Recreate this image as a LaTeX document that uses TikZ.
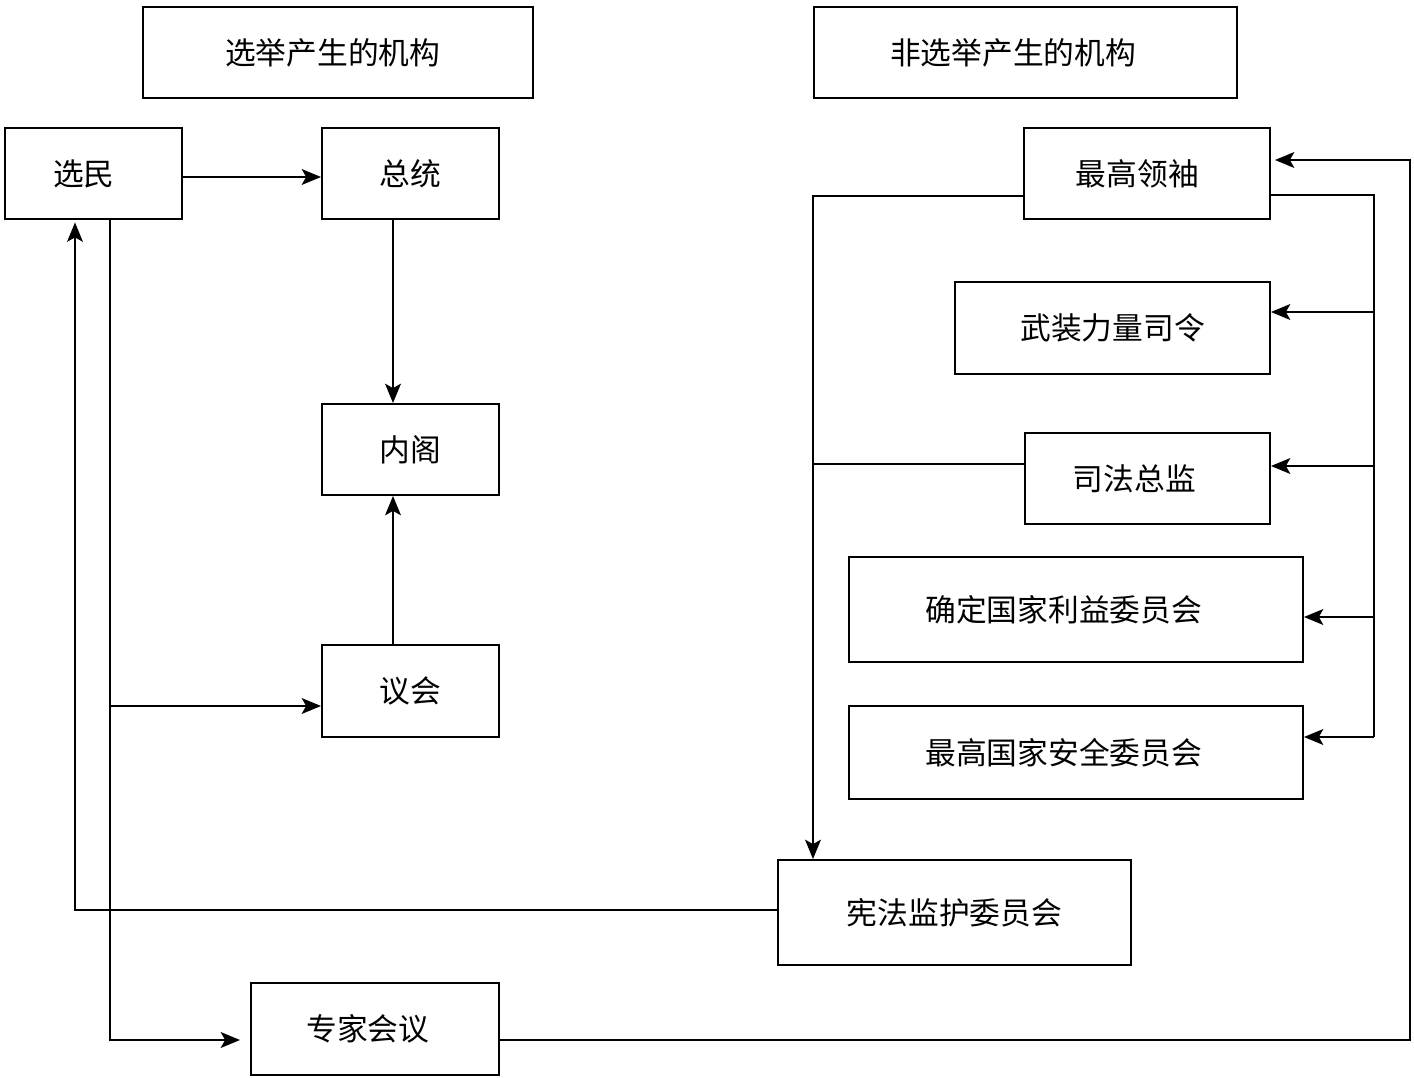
\documentclass[tikz,border=0pt]{standalone}
\usepackage{fontspec}
\newfontfamily\cjk{Noto Sans CJK SC}
\usetikzlibrary{arrows.meta}
\begin{document}
\begin{tikzpicture}[x=0.02cm,y=-0.02cm,
  box/.style={draw, line width=1.1pt, inner sep=0pt, font=\cjk\fontsize{17.5}{21}\selectfont},
  arr/.style={-{Stealth[length=11pt,width=9pt,inset=2.5pt]}, line width=1.1pt},
  ln/.style={line width=1.1pt}]
\useasboundingbox (0,0) rectangle (1414,1078);
\fill[white] (0,0) rectangle (1414,1078);
% titles
\node[box, minimum width=7.8cm, minimum height=1.82cm] (t1) at (338,52.5) {选举产生的机构\kern6pt};
\node[box, minimum width=8.46cm, minimum height=1.82cm] (t2) at (1025.5,52.5) {非选举产生的机构\kern14pt};
% elected side
\node[box, minimum width=3.54cm, minimum height=1.82cm] (voter) at (93.5,173.5) {选民\kern11pt};
\node[box, minimum width=3.54cm, minimum height=1.82cm] (pres) at (410.5,173.5) {总统};
\node[box, minimum width=3.54cm, minimum height=1.82cm] (cab) at (410.5,449.5) {内阁};
\node[box, minimum width=3.54cm, minimum height=1.84cm] (parl) at (410.5,691) {议会};
\node[box, minimum width=4.96cm, minimum height=1.84cm] (expert) at (375,1029) {专家会议\kern8pt};
% non-elected side
\node[box, minimum width=7.06cm, minimum height=2.1cm] (guard) at (954.5,912.5) {宪法监护委员会};
\node[box, minimum width=4.92cm, minimum height=1.82cm] (leader) at (1147,173.5) {最高领袖\kern11pt};
\node[box, minimum width=6.3cm, minimum height=1.84cm] (army) at (1112.5,328) {武装力量司令};
\node[box, minimum width=4.9cm, minimum height=1.82cm] (judic) at (1147.5,478.5) {司法总监\kern15pt};
\node[box, minimum width=9.08cm, minimum height=2.1cm] (expd) at (1076,609.5) {确定国家利益委员会\kern14pt};
\node[box, minimum width=9.08cm, minimum height=1.86cm] (snsc) at (1076,752.5) {最高国家安全委员会\kern14pt};
% connectors, elected side
\draw[arr] (voter.east |- 0,177) -- (pres.west |- 0,177);
\draw[arr] (pres.south -| 393,0) -- (cab.north -| 393,0);
\draw[arr] (parl.north -| 393,0) -- (cab.south -| 393,0);
\draw[arr, shorten >=0.2cm] (voter.south -| 110,0) -- (110,1040) -- (expert.west |- 0,1040);
\coordinate (j1) at (110,706);
\draw[arr] (j1) -- (parl.west |- j1);
\draw[arr, shorten >=0.05cm] (guard.west |- 0,910) -- (75,910) -- (voter.south -| 75,0);
\draw[arr, shorten >=0.08cm] (expert.east |- 0,1040) -- (1410,1040) -- (1410,160) -- (leader.east |- 0,160);
% leader appoints
\draw[ln] (leader.east |- 0,195) -- (1374,195) -- (1374,737);
\coordinate (b1) at (1374,312);
\coordinate (b2) at (1374,466);
\coordinate (b3) at (1374,617);
\coordinate (b4) at (1374,737);
\draw[arr] (b1) -- (army.east |- b1);
\draw[arr] (b2) -- (judic.east |- b2);
\draw[arr] (b3) -- (expd.east |- b3);
\draw[arr] (b4) -- (snsc.east |- b4);
\draw[arr] (leader.west |- 0,196) -- (813,196) -- (guard.north -| 813,0);
\draw[ln] (judic.west |- 0,464) -- (813,464);
\end{tikzpicture}
\end{document}
